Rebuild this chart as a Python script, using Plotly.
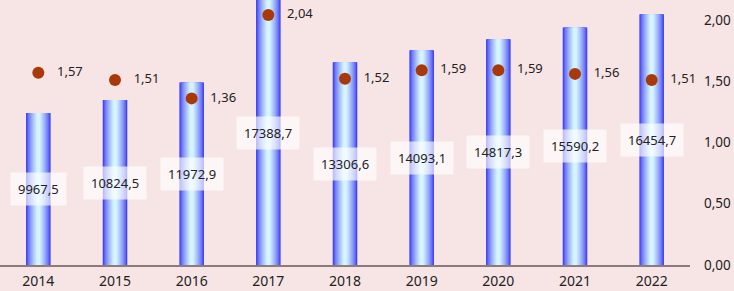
import plotly.graph_objects as go

years = ["2014", "2015", "2016", "2017", "2018", "2019", "2020", "2021", "2022"]
volumes = [9967.5, 10824.5, 11972.9, 17388.7, 13306.6, 14093.1, 14817.3, 15590.2, 16454.7]
ratios = [1.57, 1.51, 1.36, 2.04, 1.52, 1.59, 1.59, 1.56, 1.51]
right_ticks = [0, 0.5, 1.0, 1.5, 2.0]

def fmt(v, d):
    return f"{v:.{d}f}".replace(".", ",")

xpos = list(range(len(years)))

fig = go.Figure()

# simulated cylinder gradient with overlaid bars
edge = (58, 58, 245)
center = (212, 244, 255)
n = 12
full_w = 0.32
for i in range(n):
    t = i / (n - 1)
    c = tuple(int(edge[k] + (center[k] - edge[k]) * (t ** 0.7)) for k in range(3))
    w = full_w * (1 - t * 0.85)
    fig.add_trace(go.Bar(
        x=xpos, y=volumes, width=w,
        marker=dict(color=f"rgb{c}", line=dict(width=0)),
        hoverinfo="skip", showlegend=False, xaxis="x", yaxis="y",
    ))

fig.add_trace(go.Scatter(
    x=xpos, y=ratios, xaxis="x", yaxis="y2", mode="markers+text",
    marker=dict(color="#a83a0a", size=12),
    text=["   " + fmt(v, 2) for v in ratios], textposition="middle right",
    textfont=dict(size=13, color="#222222"),
    showlegend=False, cliponaxis=False,
))

for xp, v in zip(xpos, volumes):
    fig.add_annotation(
        x=xp, y=v / 2, xref="x", yref="y", text=fmt(v, 1), showarrow=False,
        bgcolor="rgba(255,255,255,0.65)", borderpad=7,
        font=dict(size=13, color="#222222"),
    )

fig.update_layout(
    width=734, height=291,
    margin=dict(l=0, r=44, t=0, b=26),
    paper_bgcolor="#f7e4e4", plot_bgcolor="#f7e4e4",
    barmode="overlay",
    separators=", ",
    font=dict(family="Noto Sans, Open Sans, sans-serif", size=13, color="#222222"),
    xaxis=dict(range=[-0.5, len(years) - 0.5], tickvals=xpos, ticktext=years,
               showline=True, linecolor="#8c7b7b", linewidth=2, automargin=False,
               showgrid=False, zeroline=False, ticks="", tickfont=dict(size=14),
               ticklabelstandoff=2),
    yaxis=dict(visible=False, range=[0, 17390], showgrid=False),
    yaxis2=dict(overlaying="y", side="right", range=[0, 2.163], tickvals=right_ticks,
                ticktext=[fmt(v, 2) for v in right_ticks], showgrid=False, automargin=False,
                showline=False, zeroline=False, ticks="", tickfont=dict(size=13.5),
                ticklabelstandoff=13),
)

fig.write_html("out.html", config={"displayModeBar": False},
               post_script="document.body.style.margin='0';document.body.style.background='#f7e4e4';")
